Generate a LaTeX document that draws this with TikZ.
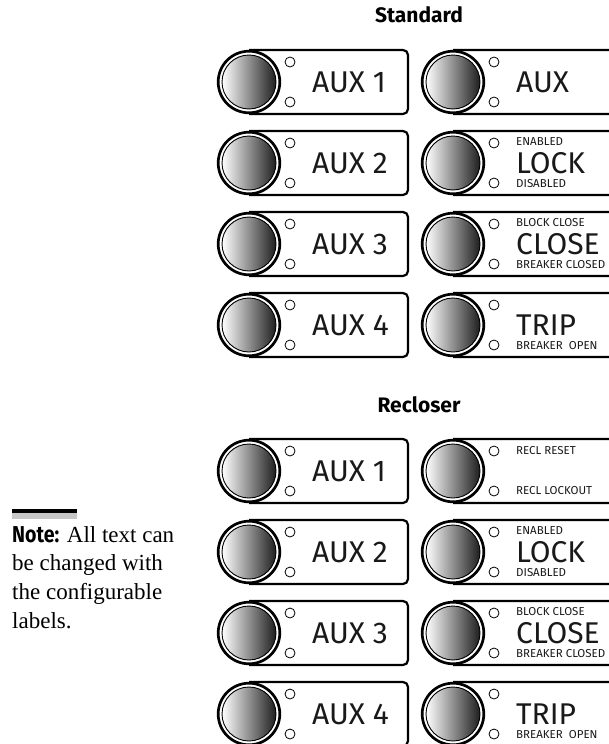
\documentclass[tikz,border=0pt]{standalone}
\usepackage{fontspec}
\setmainfont{Liberation Serif}
\newfontfamily\keyfont{Fira Sans}
\newfontfamily\notefont[FakeStretch=0.85]{Fira Sans}

% One push-button key: panel outline (length #5), shaded button, two LEDs, main legend
\newcommand\relaykey[5]{%
  \begin{scope}[shift={(#2,#3)}]
    \draw[panelline] (0,-32) -- (#5,-32) -- (#5,32) -- (0,32);
    \draw[ring] (0,0) circle (30.8pt);
    \shade[left color=white, right color=black!88] (0,0) circle (27pt);
    \draw[line width=0.9pt] (0,0) circle (27pt);
    \draw[led] (41,-20) circle (5pt) (41,20) circle (5pt);
    \node[keytext] (#1-main) at (63,0) {#4};
  \end{scope}}

\begin{document}
\begin{tikzpicture}[x=1pt,y=-1pt,
  panelline/.style={line width=2.2pt, rounded corners=5pt},
  ring/.style={line width=2.7pt},
  led/.style={line width=0.8pt, fill=white},
  keytext/.style={anchor=west, inner sep=0pt, text=black!90,
    font=\keyfont\fontsize{30}{30}\selectfont},
  smalltext/.style={anchor=west, inner sep=0pt, text=black!90,
    font=\keyfont\fontsize{11.5}{11.5}\selectfont},
  title/.style={anchor=base, inner sep=0pt,
    font=\keyfont\bfseries\fontsize{21}{21}\selectfont},
  notetext/.style={anchor=base west, inner sep=0pt,
    font=\fontsize{23}{28}\selectfont}]
\useasboundingbox (0,0) rectangle (609,744);
\clip (0,0) rectangle (609,744);

% Standard set
\node[title] (std) at (419,23) {Standard};
\relaykey{s1}{249}{82}{AUX 1}{159}
\relaykey{s2}{249}{163}{AUX 2}{159}
\relaykey{s3}{249}{244}{AUX 3}{159}
\relaykey{s4}{249}{325}{AUX 4}{159}
\relaykey{s5}{453}{82}{AUX}{175}
\relaykey{s6}{453}{163}{LOCK}{175}
\relaykey{s7}{453}{244}{CLOSE}{175}
\relaykey{s8}{453}{325}{TRIP}{175}
\node[smalltext] (s6-top) at (516,142) {ENABLED};
\node[smalltext] (s6-bot) at (516,184) {DISABLED};
\node[smalltext] (s7-top) at (516,223) {BLOCK CLOSE};
\node[smalltext] (s7-bot) at (516,265) {BREAKER CLOSED};
\node[smalltext] (s8-bot) at (516,346) {BREAKER\ \ OPEN};

% Recloser set
\node[title] (rec) at (419,412) {Recloser};
\relaykey{r1}{249}{471}{AUX 1}{159}
\relaykey{r2}{249}{552}{AUX 2}{159}
\relaykey{r3}{249}{633}{AUX 3}{159}
\relaykey{r4}{249}{714}{AUX 4}{159}
\relaykey{r5}{453}{471}{}{175}
\relaykey{r6}{453}{552}{LOCK}{175}
\relaykey{r7}{453}{633}{CLOSE}{175}
\relaykey{r8}{453}{714}{TRIP}{175}
\node[smalltext] (r5-top) at (516,451) {RECL RESET};
\node[smalltext] (r5-bot) at (516,491) {RECL LOCKOUT};
\node[smalltext] (r6-top) at (516,531) {ENABLED};
\node[smalltext] (r6-bot) at (516,573) {DISABLED};
\node[smalltext] (r7-top) at (516,612) {BLOCK CLOSE};
\node[smalltext] (r7-bot) at (516,654) {BREAKER CLOSED};
\node[smalltext] (r8-bot) at (516,735) {BREAKER\ \ OPEN};

% Side note
\fill (12,509) rectangle (77,513);
\fill[black!22] (12,513) rectangle (77,519);
\node[notetext] (note1) at (12,542) {{\notefont\bfseries Note:} All text can};
\node[notetext] (note2) at (12,570.7) {be changed with};
\node[notetext] (note3) at (12,599.4) {the configurable};
\node[notetext] (note4) at (12,628) {labels.};
\end{tikzpicture}
\end{document}
